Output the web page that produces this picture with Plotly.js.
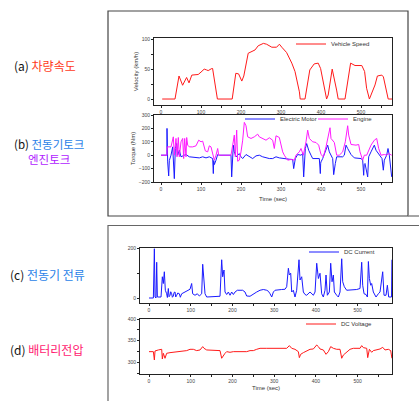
<!DOCTYPE html>
<html>
<head>
<meta charset="utf-8">
<script src="https://cdn.plot.ly/plotly-3.0.1.min.js"></script>
<style>
html,body{margin:0;padding:0;background:#fff;}
#chart{width:419px;height:401px;}
</style>
</head>
<body>
<div id="chart"></div>
<script>
// ---------------- DATA ----------------
// (a) Vehicle speed (km/h)
const speedTime = [3, 35, 45, 54, 64, 70, 77, 93, 100, 108, 114, 118, 127, 129, 141, 178, 187, 194, 202, 207, 218, 227, 235, 243, 256, 264, 277, 289, 296, 302, 314, 327, 335, 346, 348, 360, 372, 383, 393, 399, 407, 414, 418, 428, 439, 443, 460, 474, 485, 493, 502, 509, 514, 521, 535, 541, 552, 556, 562, 568, 578];
const speedVal  = [0, 0, 38.5, 23, 36, 27, 40, 41, 45, 50, 48.6, 47.5, 51, 51, 0, 0, 43, 42, 30, 38.5, 76.5, 79, 82, 89, 93, 91.6, 86.6, 86.6, 91.6, 86.6, 77.7, 60, 46, 12, 0, 0, 48.6, 58.7, 60, 51, 20.7, 0, 6.7, 50, 15, 0, 0, 60, 56, 56, 56, 46, 18, 0, 23.5, 38.5, 40, 37, 18, 0, 0];

// (b) Electric motor torque (Nm)
const motorTime = [0, 12.5, 14.8, 15, 15.2, 16.7, 19.2, 20.8, 25, 29.2, 33.3, 35.8, 39.2, 41.7, 45.8, 50, 58.3, 62.5, 70.8, 95.8, 104.2, 112.5, 120.8, 129.2, 130.8, 131.8, 133.3, 137.5, 141.7, 145.8, 175, 176.7, 179.2, 180.8, 183.3, 187.5, 191.7, 195.8, 200, 204.2, 212.5, 220.8, 229.2, 237.5, 245.8, 254.2, 262.5, 270.8, 279.2, 287.5, 295.8, 304.2, 312.5, 320.8, 329.2, 330.5, 331.7, 335.8, 341.7, 350, 354.2, 356.7, 360.8, 364.2, 369.2, 375, 379.2, 395.8, 398.3, 399.2, 400, 404.2, 412.5, 416.7, 420.8, 429.2, 431.7, 433.5, 435.8, 439.2, 454.2, 458.3, 462.5, 466.7, 475, 483.3, 500, 504.2, 506.7, 508, 510, 516.7, 519.2, 525, 533.3, 537.5, 545.8, 552.5, 555.8, 558.3, 564.2, 567.5, 570.8, 576.7];
const motorVal  = [0, 0, 0, 200, -50, -50, -155, -40, 0, 62, -175, 50, 87, 0, 37, -12, 0, 5, -12, -20, -12, -20, -12, -25, -137, -40, -70, -37, 5, 0, 0, -162, 50, 75, 25, -12, 0, 12, -12, -25, 5, -12, -25, -5, 0, -12, -20, -25, -25, -12, -20, -25, -25, -30, -32, -90, -100, -25, 5, 0, 12, -162, 50, 87, 37, 0, -25, -25, -137, -60, -50, -25, 50, 75, 25, -25, -145, -80, -62, -12, -12, 0, 75, 50, 5, -20, -25, -37, -150, -70, -62, -162, -12, 25, 75, 37, 0, -25, -112, -37, 0, 50, 0, -162];

// (b) Engine torque (Nm)
const engineTime = [0, 15, 15.5, 16.7, 25, 30.8, 33.3, 37.5, 40, 43.3, 45.8, 50, 54.2, 56.7, 59.2, 62.5, 64.2, 66.7, 70.8, 79.2, 87.5, 94.2, 100, 104.2, 110.8, 116.7, 120.8, 125, 129.2, 133.3, 137.5, 141.7, 144.2, 175, 179.2, 183.3, 185.8, 189.2, 191.7, 195.8, 200, 204.2, 208.3, 212.5, 216.7, 225, 233.3, 241.7, 245.8, 254.2, 262.5, 270.8, 279.2, 283.3, 287.5, 295.8, 300, 304.2, 308.3, 316.7, 325, 333.3, 337.5, 345.8, 350, 355.8, 362.5, 366.7, 370.8, 379.2, 387.5, 394.2, 400, 405.8, 412.5, 419.2, 422.5, 425, 433.3, 439.2, 445.8, 454.2, 460.8, 466.7, 469.2, 475, 487.5, 494.2, 497.5, 504.2, 508.3, 514.2, 520.8, 525, 533.3, 539.2, 544.2, 550, 558.3, 564.2, 569.2, 576.7];
const engineVal  = [0, 0, 62, 62, 62, 137, 0, 125, -12, 132, -12, 100, 125, -25, 125, -12, 132, 75, 62, 62, 70, 112, 100, 105, 32, 25, 70, 62, 12, -37, 0, 50, 0, 0, 75, 150, -12, 187, -45, -37, 25, 112, 245, 220, 137, 125, 137, 157, 137, 125, 112, 130, 112, 50, 145, 132, 80, 25, 0, -37, -32, -37, 0, 25, 50, 0, 100, 187, 125, 100, 95, 75, 5, -12, 62, 175, 205, 125, 95, 0, 0, 25, 100, 220, 150, 80, 75, 80, 25, -37, 0, 0, 50, 75, 112, 125, 50, 0, 5, 0, 12, 0];

// (c) DC current (A)
const currentTime = [0, 10.4, 12.8, 14.4, 16.8, 18.4, 20, 28.8, 31.9, 34.3, 36.7, 39.1, 42.3, 44, 46.3, 48, 50.3, 52, 54.3, 56, 58.3, 60, 62.3, 64, 66.3, 69, 72.7, 75, 78.3, 86.3, 94.2, 98.2, 102.2, 104.6, 110.2, 115.8, 120.6, 126.2, 128.6, 130.2, 132.6, 134.2, 138.2, 162.1, 170.1, 174.1, 176.5, 179.7, 182.1, 186.1, 190.1, 194.1, 198.1, 202.1, 206.1, 211.7, 224.4, 230, 234, 242, 250, 258, 266, 274, 282, 286, 290, 294, 298, 302, 317.9, 325.9, 329.9, 333.9, 336.3, 339.5, 341.9, 345.8, 349.8, 353.8, 359.4, 361.8, 365.8, 369.8, 373.8, 377.8, 385.8, 393.8, 397.8, 401.8, 405.8, 409.7, 413.7, 417.7, 421.7, 424.1, 427.3, 432.1, 435.3, 438.5, 441.7, 444.1, 449.7, 453.7, 457.7, 461.7, 464.1, 468, 473.6, 489.6, 497.6, 505.6, 509.6, 512, 515.2, 520, 523.2, 525.6, 528, 531.2, 533.5, 537.5, 543.9, 549.5, 553.5, 559.9, 563.1, 567.9, 571.1, 574.3, 581, 582];
const currentVal  = [0, 0, 197, 4, 0, 143, 4, 4, 85, 58, 105, 31, 17, 2, 38, 5, 11, 25, 17, 3, 8, 22, 24, 4, 11, 20, 17, 3, 17, 24, 34, 35, 58, 17, 11, 17, 8, 17, 135, 92, 65, 17, 4, 4, 7, 153, 85, 112, 24, 14, 24, 11, 24, 14, 24, 31, 31, 24, 8, 7, 17, 24, 31, 34, 31, 27, 17, 4, 24, 31, 34, 35, 45, 119, 92, 99, 24, 31, 4, 31, 153, 72, 85, 24, 14, 11, 24, 11, 24, 139, 78, 99, 17, 4, 31, 92, 11, 24, 139, 65, 92, 24, 11, 4, 24, 157, 65, 45, 31, 31, 34, 38, 143, 51, 17, 14, 4, 146, 78, 51, 58, 24, 4, 17, 24, 105, 11, 11, 51, 4, 4, 153];

// (d) DC voltage (V)
const voltageTime = [0, 10.4, 12.8, 14.4, 22.4, 30.4, 31.9, 34.3, 38.3, 42.3, 50.3, 58.3, 74.3, 90.3, 98.2, 106.2, 114.2, 122.2, 128.6, 131.8, 138.2, 154.2, 170.1, 174.1, 178.1, 182.1, 186.1, 194.1, 202.1, 210.1, 218, 234, 242, 250, 258, 266, 282, 297.9, 313.9, 329.9, 336.3, 341.9, 349.8, 357.8, 360.2, 363.4, 369.8, 377.8, 385.8, 393.8, 401.8, 405.8, 409.7, 417.7, 424.1, 429.7, 435.3, 441.7, 449.7, 457.7, 461.7, 465.7, 473.6, 481.6, 489.6, 505.6, 509.6, 513.6, 521.6, 524, 528, 533.5, 537.5, 545.5, 553.5, 559.9, 565.5, 573.5, 579.1, 582];
const voltageVal  = [324.6, 324.6, 305.4, 326.2, 328.5, 330, 307.7, 320.8, 309.3, 320.8, 322.3, 323.1, 324.6, 327, 330, 330, 327, 328.5, 336.2, 332.3, 328.5, 327, 327, 309.3, 316.9, 320.8, 324.6, 323.1, 324.6, 324.6, 326.2, 324.6, 327, 327, 330, 332.3, 332.3, 332.3, 332.3, 332.3, 338.5, 332.3, 330, 324.6, 310.8, 318.5, 322.3, 326.2, 330, 330.8, 340, 336.2, 330.8, 328.5, 318.5, 324.6, 336.2, 332.3, 330, 330, 309.3, 316.9, 323.1, 330, 332.3, 332.3, 338.5, 333.9, 332.3, 310.8, 330, 323.1, 327, 328.5, 330.8, 334.6, 328.5, 330, 327, 309.3];

// Tick / label texts
const xTickStep = 100;
const seriesNames = ["Vehicle Speed", "Electric Motor", "Engine", "DC Current", "DC Voltage"];

// ---------------- LAYOUT HELPERS ----------------
const W = 419, H = 401;
const px = v => v / W;
const py = v => 1 - v / H;

const tickFont = {family: "Liberation Sans, Arial, sans-serif", size: 5, color: "#444"};
const titleFont = {family: "Liberation Sans, Arial, sans-serif", size: 6, color: "#333"};
const legFont = {family: "Liberation Sans, Arial, sans-serif", size: 6, color: "#333"};

function xax(domain, range, anchor, showTitle, standoff) {
  return {
    domain: domain, range: range, anchor: anchor,
    showline: true, mirror: true, linecolor: "#222", linewidth: 1,
    showgrid: false, zeroline: false,
    ticks: "outside", ticklen: 2, tickcolor: "#222", tickwidth: 1,
    tick0: 0, dtick: xTickStep,
    minor: {dtick: xTickStep / 2, ticks: "outside", ticklen: 2, tickcolor: "#222", showgrid: false},
    tickfont: tickFont,
    title: showTitle ? {text: "Time (sec)", font: titleFont, standoff: standoff} : {text: ""}
  };
}
function yax(domain, range, anchor, dtick, minorDtick, title) {
  return {
    domain: domain, range: range, anchor: anchor,
    showline: true, mirror: true, linecolor: "#222", linewidth: 1,
    showgrid: false, zeroline: false,
    ticks: "outside", ticklen: 2, tickcolor: "#222", tickwidth: 1,
    tick0: 0, dtick: dtick,
    minor: minorDtick ? {dtick: minorDtick, ticks: "outside", ticklen: 2, tickcolor: "#222", showgrid: false} : undefined,
    tickfont: tickFont,
    title: title ? {text: title, font: titleFont, standoff: 2} : {text: ""}
  };
}

const traces = [
  {x: speedTime, y: speedVal, xaxis: "x", yaxis: "y", type: "scatter", mode: "lines",
   name: seriesNames[0], line: {color: "#ff1a1a", width: 1}, legend: "legend"},
  {x: motorTime, y: motorVal, xaxis: "x2", yaxis: "y2", type: "scatter", mode: "lines",
   name: seriesNames[1], line: {color: "#1a1aff", width: 1}, legend: "legend2"},
  {x: engineTime, y: engineVal, xaxis: "x2", yaxis: "y2", type: "scatter", mode: "lines",
   name: seriesNames[2], line: {color: "#ff1aff", width: 1}, legend: "legend3"},
  {x: currentTime, y: currentVal, xaxis: "x3", yaxis: "y3", type: "scatter", mode: "lines",
   name: seriesNames[3], line: {color: "#1a1aff", width: 1}, legend: "legend4"},
  {x: voltageTime, y: voltageVal, xaxis: "x4", yaxis: "y4", type: "scatter", mode: "lines",
   name: seriesNames[4], line: {color: "#ff1a1a", width: 1}, legend: "legend5"}
];

function leg(xpx, ypx) {
  return {x: px(xpx), y: py(ypx), xanchor: "left", yanchor: "middle",
          bgcolor: "rgba(0,0,0,0)", borderwidth: 0, font: legFont,
          tracegroupgap: 0, itemclick: false};
}

const topDom = [px(154), px(392)];
const botDom = [px(140), px(392)];
const krFont = {family: "Noto Sans CJK KR", size: 12, color: "#111"};

const layout = {
  width: W, height: H,
  margin: {l: 0, r: 0, t: 0, b: 0},
  paper_bgcolor: "#fff", plot_bgcolor: "#fff",
  showlegend: true,
  xaxis: xax(topDom, [-17.5, 577.5], "y", false),
  yaxis: yax([py(105), py(38)], [-10, 102], "x", 50, 25, "Velocity (km/h)"),
  xaxis2: xax(topDom, [-17.5, 577.5], "y2", true, 5),
  yaxis2: yax([py(182), py(115)], [-200, 300], "x2", 100, null, "Torque (Nm)"),
  xaxis3: xax(botDom, [-21.6, 582.2], "y3", false),
  yaxis3: yax([py(303), py(248)], [-20, 200], "x3", 200, 100, null),
  xaxis4: xax(botDom, [-21.6, 582.2], "y4", true, 2),
  yaxis4: yax([py(374), py(319)], [273, 400], "x4", 50, 25, null),
  legend: leg(291, 44),
  legend2: leg(240, 119),
  legend3: leg(313, 119),
  legend4: leg(304, 252),
  legend5: leg(301, 324),
  shapes: [
    {type: "rect", xref: "paper", yref: "paper", x0: px(108), x1: px(408), y0: py(216), y1: py(11),
     line: {color: "#444", width: 1.2}},
    {type: "line", xref: "paper", yref: "paper", x0: px(408), x1: 1, y0: py(216), y1: py(216),
     line: {color: "#888", width: 1.5}},
    {type: "rect", xref: "paper", yref: "paper", x0: px(108), x1: 1.02, y0: -0.05, y1: py(225.5),
     line: {color: "#666", width: 1.2}}
  ],
  annotations: [
    {xref: "paper", yref: "paper", x: px(12), y: py(66), xanchor: "left", yanchor: "middle", showarrow: false,
     text: "(a) <span style='color:#ff3a1a'>차량속도</span>", font: krFont},
    {xref: "paper", yref: "paper", x: px(12), y: py(152), xanchor: "left", yanchor: "middle", showarrow: false,
     align: "center",
     text: "(b) <span style='color:#2a7fe8'>전동기토크</span><br><span style='color:#b01aff'>엔진토크</span>",
     font: {family: "Noto Sans CJK KR", size: 11.5, color: "#111"}},
    {xref: "paper", yref: "paper", x: px(8), y: py(274), xanchor: "left", yanchor: "middle", showarrow: false,
     text: "(c) <span style='color:#2a7fe8'>전동기 전류</span>", font: krFont},
    {xref: "paper", yref: "paper", x: px(8), y: py(349), xanchor: "left", yanchor: "middle", showarrow: false,
     text: "(d) <span style='color:#ff1a70'>배터리전압</span>", font: krFont}
  ]
};

Plotly.newPlot("chart", traces, layout, {staticPlot: true, displayModeBar: false});
</script>
</body>
</html>
